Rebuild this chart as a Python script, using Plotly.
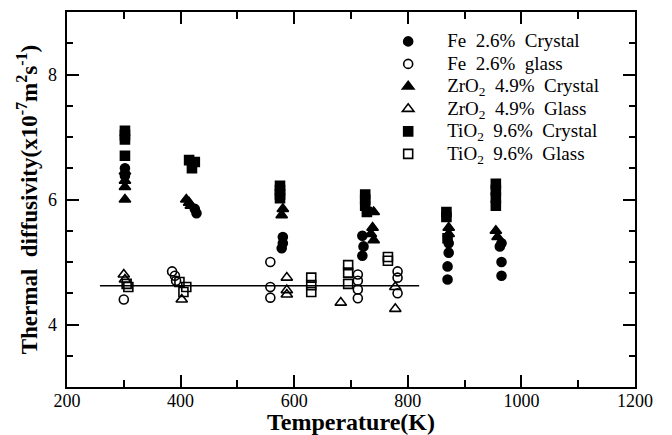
import plotly.graph_objects as go

# ---------------- data ----------------
fe_cr_T = [302, 302, 425, 428, 580, 580, 578, 720, 722, 720, 872, 872, 870, 870, 965, 962, 965, 965]
fe_cr_v = [6.5, 6.38, 5.85, 5.78, 5.4, 5.3, 5.22, 5.42, 5.25, 5.1, 5.3, 5.15, 4.93, 4.72, 5.3, 5.25, 5.0, 4.78]

fe_gl_T = [300, 385, 390, 392, 558, 558, 558, 712, 712, 712, 712, 782, 782, 782]
fe_gl_v = [4.4, 4.85, 4.78, 4.7, 5.0, 4.6, 4.43, 4.8, 4.7, 4.56, 4.42, 4.85, 4.75, 4.5]

zr_cr_T = [302, 302, 302, 302, 410, 415, 418, 580, 578, 740, 738, 735, 740, 872, 872, 955, 958]
zr_cr_v = [6.45, 6.3, 6.2, 6.0, 6.0, 5.95, 5.9, 5.85, 5.75, 5.8, 5.55, 5.45, 5.35, 5.55, 5.45, 5.5, 5.4]

zr_gl_T = [300, 302, 402, 587, 587, 587, 682, 778, 778]
zr_gl_v = [4.8, 4.72, 4.4, 4.75, 4.55, 4.48, 4.35, 4.6, 4.25]

ti_cr_T = [302, 302, 302, 302, 415, 425, 420, 575, 575, 575, 575, 725, 725, 725, 728, 868, 868, 870, 955, 955, 955, 955]
ti_cr_v = [7.1, 7.03, 6.96, 6.7, 6.63, 6.6, 6.5, 6.22, 6.15, 6.08, 6.02, 6.08, 6.0, 5.9, 5.8, 5.8, 5.72, 5.38, 6.25, 6.15, 6.03, 5.9]

ti_gl_T = [305, 308, 398, 410, 405, 630, 630, 630, 695, 695, 695, 765, 765]
ti_gl_v = [4.65, 4.6, 4.68, 4.6, 4.52, 4.75, 4.63, 4.52, 4.95, 4.83, 4.65, 5.08, 5.02]

ref_T = [258, 820]
ref_v = [4.62, 4.62]

NB = "\u00a0"
names = [
    f"Fe{NB}{NB}2.6%{NB}{NB}Crystal",
    f"Fe{NB}{NB}2.6%{NB}{NB}glass",
    f"ZrO<sub>2</sub>{NB}{NB}4.9%{NB}{NB}Crystal",
    f"ZrO<sub>2</sub>{NB}{NB}4.9%{NB}{NB}Glass",
    f"TiO<sub>2</sub>{NB}{NB}9.6%{NB}{NB}Crystal",
    f"TiO<sub>2</sub>{NB}{NB}9.6%{NB}{NB}Glass",
]

FONT = "Liberation Serif"
BLACK = "#000000"

fig = go.Figure()

fig.add_trace(go.Scatter(x=ref_T, y=ref_v, mode="lines",
                         line=dict(color=BLACK, width=1.5), showlegend=False,
                         hoverinfo="skip"))

series = [
    (fe_cr_T, fe_cr_v, "circle", 9),
    (fe_gl_T, fe_gl_v, "circle-open", 9),
    (zr_cr_T, zr_cr_v, "triangle-up", 10),
    (zr_gl_T, zr_gl_v, "triangle-up-open", 10),
    (ti_cr_T, ti_cr_v, "square", 9),
    (ti_gl_T, ti_gl_v, "square-open", 9),
]
for (xs, ys, sym, sz), nm in zip(series, names):
    fig.add_trace(go.Scatter(
        x=xs, y=ys, mode="markers",
        name=f'<span style="font-size:19px">{nm}</span>',
        marker=dict(symbol=sym, size=sz, color=BLACK,
                    line=dict(color=BLACK, width=1.6)),
    ))

axis_common = dict(
    showline=True, linecolor=BLACK, linewidth=2, mirror="ticks",
    ticks="inside", tickcolor=BLACK, tickwidth=2, ticklen=12,
    showgrid=False, zeroline=False,
    tickfont=dict(family=FONT, size=18, color=BLACK),
)

fig.update_xaxes(
    range=[200, 1200], tick0=200, dtick=200,
    minor=dict(dtick=100, ticks="inside", ticklen=7, tickwidth=2, tickcolor=BLACK),
    ticklabelstandoff=-4,
    title=dict(text="Temperature(K)", standoff=7,
               font=dict(family=FONT, size=24, color=BLACK, weight="bold")),
    automargin=False,
    **axis_common,
)
fig.update_yaxes(
    range=[3, 9], tick0=0, dtick=2,
    minor=dict(dtick=0.5, ticks="inside", ticklen=6, tickwidth=2, tickcolor=BLACK),
    ticksuffix=NB,
    title=dict(text=f"Thermal{NB}{NB}diffusivity(x10<sup>-7</sup>m<sup>2</sup>s<sup>-1</sup>)",
               standoff=4,
               font=dict(family=FONT, size=23, color=BLACK, weight="bold")),
    automargin=False,
    **axis_common,
)

# the page body has an 8px margin, so the figure is sized to fit the 672x435 window
fig.update_layout(
    width=664, height=427,
    margin=dict(l=59, r=37, t=4, b=48),
    paper_bgcolor="white", plot_bgcolor="white",
    showlegend=True,
    legend=dict(x=0.532, y=0.965, xanchor="left", yanchor="top",
                bgcolor="rgba(0,0,0,0)", borderwidth=0,
                font=dict(family=FONT, size=15, color=BLACK),
                itemwidth=68, tracegroupgap=0),
)

fig.write_html("out.html")
